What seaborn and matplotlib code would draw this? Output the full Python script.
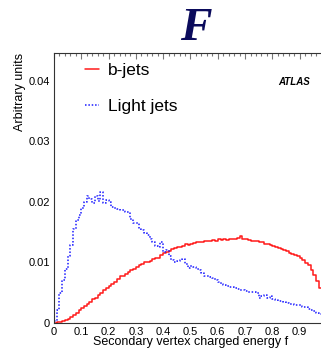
import numpy as np
import pandas as pd
import matplotlib
matplotlib.use("Agg")
import matplotlib.pyplot as plt
from matplotlib.lines import Line2D
from matplotlib.ticker import MultipleLocator
import seaborn as sns

# Bin edges of the charged-energy-fraction histogram (0.01 wide)
bin_edges = [round(i * 0.01, 3) for i in range(99)]

# Normalised b-jet distribution per bin
b_jets = [
    0.0000, 0.0001, 0.0002, 0.0004, 0.0005, 0.0007, 0.0010, 0.0013, 0.0017, 0.0021,
    0.0024, 0.0028, 0.0031, 0.0035, 0.0039, 0.0042, 0.0046, 0.0050, 0.0055, 0.0057,
    0.0061, 0.0065, 0.0068, 0.0072, 0.0077, 0.0078, 0.0081, 0.0085, 0.0087, 0.0090,
    0.0093, 0.0095, 0.0097, 0.0100, 0.0101, 0.0103, 0.0105, 0.0107, 0.0108, 0.0112,
    0.0116, 0.0117, 0.0119, 0.0122, 0.0124, 0.0125, 0.0126, 0.0128, 0.0130, 0.0129,
    0.0131, 0.0132, 0.0133, 0.0134, 0.0133, 0.0135, 0.0136, 0.0135, 0.0137, 0.0136,
    0.0138, 0.0137, 0.0138, 0.0137, 0.0139, 0.0138, 0.0139, 0.0140, 0.0143, 0.0139,
    0.0138, 0.0137, 0.0136, 0.0136, 0.0135, 0.0134, 0.0133, 0.0131, 0.0130, 0.0129,
    0.0127, 0.0126, 0.0124, 0.0123, 0.0121, 0.0119, 0.0116, 0.0114, 0.0112, 0.0110,
    0.0108, 0.0104, 0.0099, 0.0096, 0.0088, 0.0080, 0.0069, 0.0057,
]

# Normalised light-jet distribution per bin
light_jets = [
    0.0004, 0.0021, 0.0050, 0.0071, 0.0090, 0.0110, 0.0129, 0.0156, 0.0170, 0.0178,
    0.0190, 0.0200, 0.0210, 0.0205, 0.0199, 0.0210, 0.0201, 0.0216, 0.0199, 0.0204,
    0.0200, 0.0192, 0.0190, 0.0188, 0.0187, 0.0186, 0.0184, 0.0183, 0.0172, 0.0166,
    0.0165, 0.0156, 0.0153, 0.0148, 0.0146, 0.0138, 0.0133, 0.0127, 0.0126, 0.0134,
    0.0118, 0.0121, 0.0110, 0.0104, 0.0100, 0.0102, 0.0104, 0.0106, 0.0098, 0.0091,
    0.0094, 0.0093, 0.0089, 0.0088, 0.0082, 0.0077, 0.0078, 0.0076, 0.0074, 0.0071,
    0.0067, 0.0064, 0.0063, 0.0061, 0.0060, 0.0059, 0.0058, 0.0056, 0.0055, 0.0054,
    0.0053, 0.0052, 0.0051, 0.0051, 0.0050, 0.0041, 0.0044, 0.0047, 0.0042, 0.0044,
    0.0039, 0.0038, 0.0037, 0.0036, 0.0035, 0.0033, 0.0032, 0.0031, 0.0030, 0.0029,
    0.0030, 0.0027, 0.0026, 0.0023, 0.0021, 0.0019, 0.0017, 0.0015,
]

series_labels = ["b-jets", "Light jets"]
x_ticks = [0, 0.1, 0.2, 0.3, 0.4, 0.5, 0.6, 0.7, 0.8, 0.9]
x_tick_labels = ["0", "0.1", "0.2", "0.3", "0.4", "0.5", "0.6", "0.7", "0.8", "0.9"]
y_ticks = [0, 0.01, 0.02, 0.03, 0.04]
y_tick_labels = ["0", "0.01", "0.02", "0.03", "0.04"]

sns.set_theme(style="white")
plt.rcParams["font.family"] = ["Liberation Sans", "DejaVu Sans"]
plt.rcParams["text.color"] = "black"
plt.rcParams["xtick.labelcolor"] = "black"
plt.rcParams["ytick.labelcolor"] = "black"

edges = np.array(bin_edges)
centers = (edges[:-1] + edges[1:]) / 2
df = pd.DataFrame({"f": centers, "b": b_jets, "light": light_jets})

W, H = 321, 349
fig = plt.figure(figsize=(W / 100, H / 100), dpi=100)
ax = fig.add_axes([54 / W, 26 / H, 267.5 / W, 270 / H])

sns.histplot(data=df, x="f", weights="b", bins=bin_edges, element="step",
             fill=False, color="#ff1a1a", linewidth=1.1, ax=ax)
sns.histplot(data=df, x="f", weights="light", bins=bin_edges, element="step",
             fill=False, color="#1a1aff", linewidth=1.1, linestyle=(0, (1, 1.2)), ax=ax)

ax.set_xlim(0, 0.98)
ax.set_ylim(0, 0.0446)
ax.set_xticks(x_ticks)
ax.set_xticklabels(x_tick_labels, fontsize=8)
ax.set_yticks(y_ticks)
ax.set_yticklabels(y_tick_labels, fontsize=8)
ax.xaxis.set_minor_locator(MultipleLocator(0.02))
ax.yaxis.set_minor_locator(MultipleLocator(0.002))
ax.tick_params(which="both", direction="in", top=True, right=False, color="#777777",
               width=0.8)
ax.tick_params(which="major", length=4.5, pad=3)
ax.tick_params(which="minor", length=2.3)
ax.spines["right"].set_visible(False)
for s in ["left", "bottom", "top"]:
    ax.spines[s].set_color("#333333")
    ax.spines[s].set_linewidth(0.8)

ax.set_xlabel("")
ax.set_ylabel("")
fig.text(288 / W, 1 - 342 / H, "Secondary vertex charged energy f", ha="right",
         va="center", fontsize=9)
fig.text(20 / W, 1 - 53 / H, "Arbitrary units", rotation=90, ha="center",
         va="top", fontsize=9)

# Title
fig.text(196 / W, 1 - 29 / H, "F", ha="center", va="center", fontsize=34,
         family="Liberation Serif", weight="bold", style="italic", color="#0b0b5c")

fig.text(294 / W, 1 - 82 / H, "ATLAS", ha="center", va="center", fontsize=7,
         weight="bold", style="italic")

handles = [
    Line2D([], [], color="#ff1a1a", linewidth=1.1),
    Line2D([], [], color="#1a1aff", linewidth=1.1, linestyle=(0, (1, 1.2))),
]
fig.legend(handles, series_labels, loc="upper left",
           bbox_to_anchor=(85 / W, 1 - 63 / H), frameon=False, fontsize=12.5,
           handlelength=0.8, handletextpad=0.5, labelspacing=1.2,
           borderpad=0, borderaxespad=0)

fig.savefig("out.png", dpi=100)
